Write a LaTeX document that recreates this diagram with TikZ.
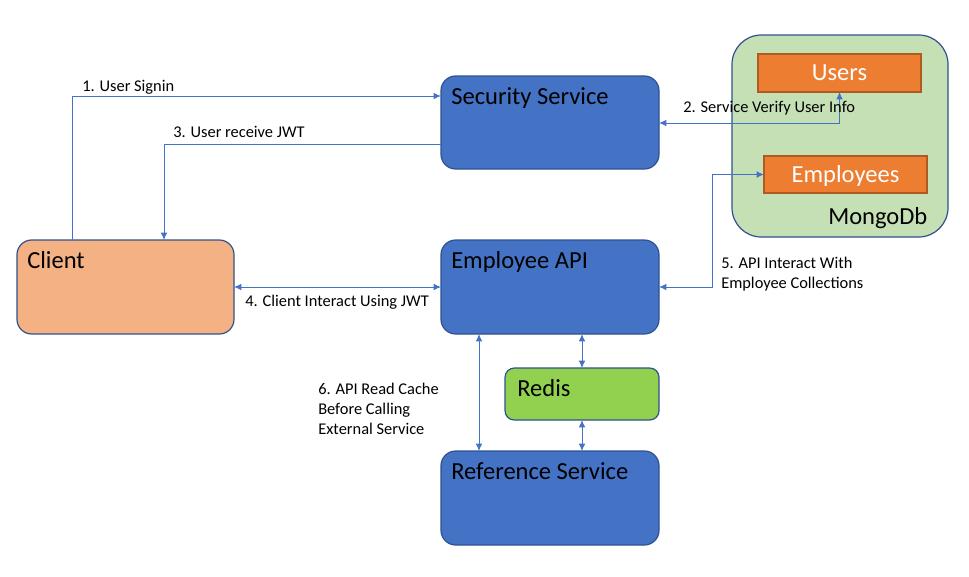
\documentclass[tikz,border=0pt]{standalone}
\usepackage{fontspec}
\setmainfont{Carlito}
\usetikzlibrary{arrows.meta,calc}
\definecolor{blueF}{HTML}{4472C4}
\definecolor{blueD}{HTML}{2F528F}
\definecolor{clientF}{HTML}{F4B183}
\definecolor{redisF}{HTML}{92D050}
\definecolor{mongoF}{HTML}{C5E0B4}
\definecolor{orangeF}{HTML}{ED7D31}
\definecolor{orangeD}{HTML}{AE5A21}
\tikzset{
  box/.style={draw=blueD, line width=0.9pt, outer sep=0pt, inner sep=0pt, anchor=north west, rounded corners=11pt},
  coll/.style={draw=orangeD, fill=orangeF, line width=0.9pt, outer sep=0pt, inner sep=0pt, anchor=north west},
  title/.style={anchor=base west, inner sep=0pt, font=\fontsize{18.4}{22}\selectfont},
  lbl/.style={anchor=base west, inner sep=0pt, align=left, font=\fontsize{12.3}{15}\selectfont},
  arr/.style={draw=blueF, line width=0.75pt, >={Latex[length=5.5pt,width=5pt]}}
}
\begin{document}
\begin{tikzpicture}[x=0.75pt,y=-0.75pt]
\useasboundingbox[fill=white] (0,0) rectangle (969,576);
% MongoDb container
\node[box, fill=mongoF, rounded corners=22pt, minimum width=162pt, minimum height=151.5pt] (mongo) at (732,35) {};
\node[coll, minimum width=122.25pt, minimum height=28.5pt] (users) at (758,54) {};
\node[coll, minimum width=122.25pt, minimum height=27.75pt] (emp) at (764,156) {};
\node[anchor=base, inner sep=0pt, text=white, font=\fontsize{18.4}{22}\selectfont] (userst) at ($(users.north)+(0,26)$) {Users};
\node[anchor=base, inner sep=0pt, text=white, font=\fontsize{18.4}{22}\selectfont] (empt) at ($(emp.north)+(0,26)$) {Employees};
\node[title] (mongot) at (828,224) {MongoDb};
% main boxes
\node[box, fill=blueF, minimum width=163.5pt, minimum height=69.75pt] (sec) at (441,76) {};
\node[box, fill=clientF, minimum width=162.75pt, minimum height=70.5pt] (client) at (17,240) {};
\node[box, fill=blueF, minimum width=163.5pt, minimum height=70.5pt] (api) at (441,240) {};
\node[box, fill=redisF, rounded corners=7pt, minimum width=115.5pt, minimum height=39pt] (redis) at (505,368) {};
\node[box, fill=blueF, minimum width=163.5pt, minimum height=70.5pt] (ref) at (441,451) {};
\node[title] (sect) at ($(sec.north west)+(10,28)$) {Security Service};
\node[title] (clientt) at ($(client.north west)+(10,28)$) {Client};
\node[title] (apit) at ($(api.north west)+(10,28)$) {Employee API};
\node[title] (redist) at ($(redis.north west)+(12,28)$) {Redis};
\node[title] (reft) at ($(ref.north west)+(10,28)$) {Reference Service};
% connectors
\draw[arr,->] ($(client.north west)+(55,0)$) |- ($(sec.north west)+(0,20)$);
\draw[arr,->] ($(sec.north west)+(0,68)$) -| ($(client.north west)+(147,0)$);
\draw[arr,<->] ($(sec.north east)+(0,47)$) -| (users.south);
\draw[arr,<->] ($(api.north east)+(0,47)$) -- ++(53,0) |- (emp.west);
\draw[arr,<->] ($(client.north east)+(0,47)$) -- ($(api.north west)+(0,47)$);
\draw[arr,<->] ($(api.south west)+(38,0)$) -- ($(ref.north west)+(38,0)$);
\draw[arr,<->] ($(api.south west)+(141,0)$) -- ($(redis.north west)+(77,0)$);
\draw[arr,<->] ($(redis.south west)+(77,0)$) -- ($(ref.north west)+(141,0)$);
% labels
\node[lbl] (l1) at (82,91) {1. User Signin};
\node[lbl] (l3) at (173,137) {3. User receive JWT};
\node[lbl] (l2) at (683,112) {2. Service Verify User Info};
\node[lbl] (l5) at (721,288) {5. API Interact With\\Employee Collections};
\node[lbl] (l4) at (245,306) {4. Client Interact Using JWT};
\node[lbl] (l6) at (318,434) {6. API Read Cache\\Before Calling\\External Service};
\end{tikzpicture}
\end{document}
